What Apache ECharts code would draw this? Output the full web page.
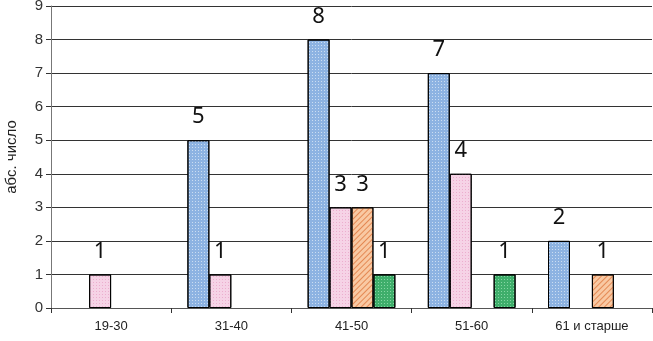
<!DOCTYPE html>
<html>
<head>
<meta charset="utf-8">
<script src="https://cdn.jsdelivr.net/npm/echarts@6/dist/echarts.min.js"></script>
<style>
  html,body{margin:0;padding:0;background:#fff;}
  #chart{width:653px;height:341px;}
</style>
</head>
<body>
<div id="chart"></div>
<script>
// данные
const categories = ['19-30', '31-40', '41-50', '51-60', '61 и старше'];
const blueVals = [0, 5, 8, 7, 2];
const pinkVals = [1, 1, 3, 4, 0];
const orangeVals = [0, 0, 3, 0, 1];
const greenVals = [0, 0, 1, 1, 0];
const yTicks = [0, 1, 2, 3, 4, 5, 6, 7, 8, 9];

const chart = echarts.init(document.getElementById('chart'));

const dotDecal = (c) => ({
  symbol: 'rect',
  symbolSize: 1,
  dashArrayX: [1, 2],
  dashArrayY: [1, 2],
  color: c
});

// нулевые значения не рисуем (иначе видна рамка)
const mkSeries = (name, data, color, decal) => ({
  name: name,
  type: 'bar',
  data: data.map(v => v === 0 ? null : v),
  barGap: '0%',
  barCategoryGap: '27%',
  itemStyle: {
    color: color,
    borderColor: '#000',
    borderWidth: 1,
    decal: decal
  },
  label: {
    show: true,
    position: 'top',
    distance: 12,
    fontSize: 22,
    fontFamily: 'Noto Sans',
    color: '#111'
  }
});

const option = {
  animation: false,
  grid: { left: 51, right: 1, top: 6, bottom: 33, containLabel: false, outerBoundsMode: 'none' },
  xAxis: {
    type: 'category',
    data: categories,
    axisLine: { lineStyle: { color: '#555' } },
    axisTick: { show: true, alignWithLabel: false, length: 5, lineStyle: { color: '#333' } },
    axisLabel: { fontSize: 13, color: '#222', fontFamily: 'Liberation Sans', margin: 12 }
  },
  yAxis: {
    type: 'value',
    min: 0,
    max: 9,
    interval: 1,
    name: 'абс. число',
    nameLocation: 'middle',
    nameGap: 32,
    nameRotate: 90,
    nameTextStyle: { fontSize: 15, color: '#222', fontFamily: 'Liberation Sans' },
    axisLine: { show: true, lineStyle: { color: '#777' } },
    axisTick: { show: true, length: 5, lineStyle: { color: '#333' } },
    axisLabel: {
      fontSize: 15, color: '#333', fontFamily: 'Liberation Sans', margin: 8,
      formatter: (v) => yTicks.includes(v) ? String(v) : ''
    },
    splitLine: { lineStyle: { color: '#333', width: 1 } }
  },
  series: [
    mkSeries('blue', blueVals, '#8db3e2', dotDecal('rgba(255,255,255,0.55)')),
    mkSeries('pink', pinkVals, '#f6d3e6', dotDecal('rgba(230,150,190,0.6)')),
    mkSeries('orange', orangeVals, '#f9c9a3', {
      symbol: 'rect', symbolSize: 1, rotation: -Math.PI / 4,
      dashArrayX: [[1, 0]], dashArrayY: [1, 3], color: 'rgba(220,110,50,0.7)'
    }),
    mkSeries('green', greenVals, '#3fae6b', dotDecal('rgba(180,240,200,0.6)'))
  ]
};

chart.setOption(option);
</script>
</body>
</html>
